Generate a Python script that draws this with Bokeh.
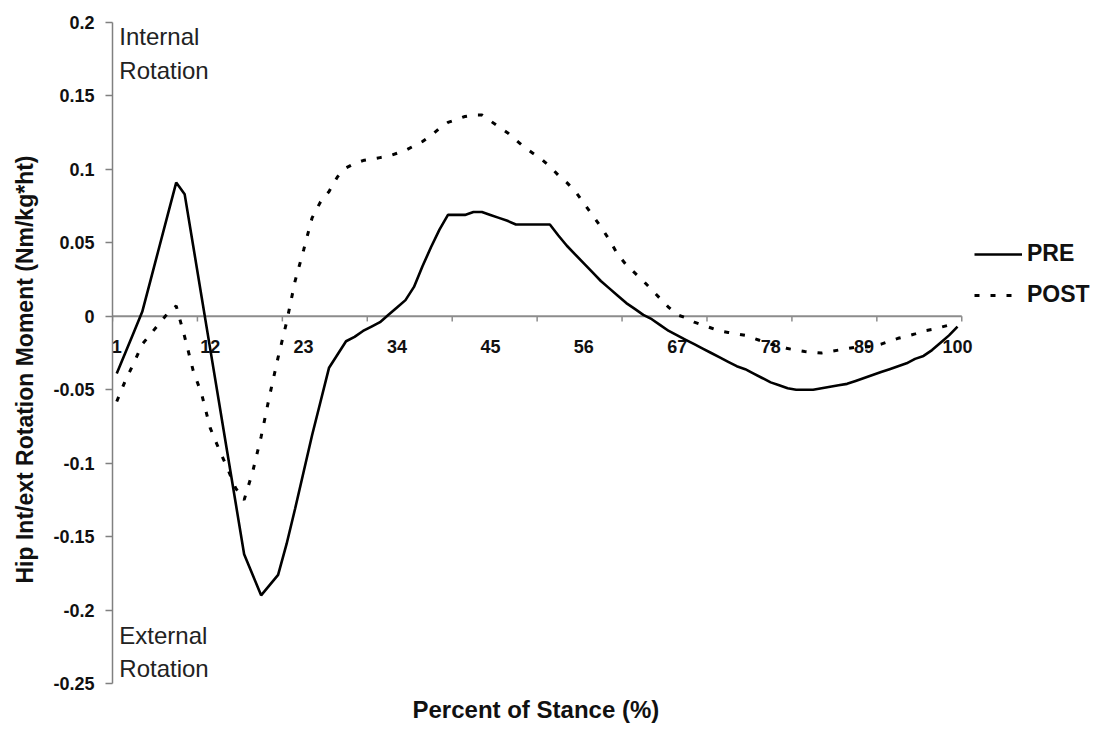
from bokeh.plotting import figure
from bokeh.models import (Range1d, FixedTicker, Label, Legend, LegendItem, Title,
                          CustomJSTickFormatter)
from bokeh.core.properties import value
from bokeh.embed import file_html
from bokeh.resources import INLINE

# ---------------- data ----------------
stance = list(range(1, 101))

pre = [
    -0.039, -0.025, -0.011, 0.003, 0.025, 0.047, 0.069, 0.091, 0.083, 0.048,
    0.013, -0.022, -0.057, -0.092, -0.127, -0.162, -0.176, -0.190, -0.183, -0.176,
    -0.155, -0.131, -0.106, -0.081, -0.058, -0.035, -0.026, -0.017, -0.014, -0.010,
    -0.007, -0.004, 0.001, 0.006, 0.011, 0.020, 0.034, 0.047, 0.059, 0.069,
    0.069, 0.069, 0.071, 0.071, 0.069, 0.067, 0.065, 0.0625, 0.0625, 0.0625,
    0.0625, 0.0625, 0.055, 0.048, 0.042, 0.036, 0.030, 0.024, 0.019, 0.014,
    0.009, 0.005, 0.001, -0.002, -0.006, -0.010, -0.013, -0.016, -0.019, -0.022,
    -0.025, -0.028, -0.031, -0.034, -0.036, -0.039, -0.042, -0.045, -0.047, -0.049,
    -0.050, -0.050, -0.050, -0.049, -0.048, -0.047, -0.046, -0.044, -0.042, -0.040,
    -0.038, -0.036, -0.034, -0.032, -0.029, -0.027, -0.023, -0.018, -0.013, -0.007,
]

post = [
    -0.058, -0.044, -0.032, -0.019, -0.012, -0.005, 0.002, 0.007, -0.014, -0.037,
    -0.053, -0.076, -0.090, -0.103, -0.117, -0.125, -0.106, -0.082, -0.054, -0.028,
    -0.004, 0.024, 0.045, 0.067, 0.078, 0.085, 0.095, 0.101, 0.104, 0.106,
    0.107, 0.108, 0.109, 0.111, 0.113, 0.116, 0.119, 0.123, 0.128, 0.132,
    0.134, 0.136, 0.137, 0.137, 0.133, 0.129, 0.125, 0.120, 0.115, 0.111,
    0.107, 0.102, 0.096, 0.091, 0.085, 0.077, 0.069, 0.061, 0.052, 0.042,
    0.035, 0.0295, 0.024, 0.018, 0.012, 0.006, 0.001, -0.001, -0.004, -0.006,
    -0.008, -0.010, -0.011, -0.012, -0.013, -0.015, -0.017, -0.019, -0.020, -0.022,
    -0.023, -0.024, -0.0245, -0.025, -0.024, -0.023, -0.022, -0.021, -0.021, -0.0205,
    -0.019, -0.017, -0.015, -0.0136, -0.012, -0.010, -0.009, -0.0075, -0.006, -0.005,
]

x_tick_labels = [1, 12, 23, 34, 45, 56, 67, 78, 89, 100]
x_tick_marks = [0.5, 10.5, 20.5, 30.5, 40.5, 50.5, 60.5, 70.5, 80.5, 90.5, 100.5]
y_ticks = [-0.25, -0.2, -0.15, -0.1, -0.05, 0, 0.05, 0.1, 0.15, 0.2]
y_tick_labels = ["-0.25", "-0.2", "-0.15", "-0.1", "-0.05", "0", "0.05", "0.1", "0.15", "0.2"]

# ---------------- figure ----------------
# category axis occupies 851 px; frame extended to the right to hold the legend
X_END = 100.5 + 132 / 8.51
p = figure(width=1093, height=733,
           x_range=Range1d(0.5, X_END), y_range=Range1d(-0.25, 0.2),
           output_backend="svg", toolbar_location=None,
           min_border=0,
           min_border_left=110, min_border_right=0,
           min_border_top=22, min_border_bottom=50)
p.grid.visible = False
p.outline_line_color = None
p.background_fill_color = "white"
p.border_fill_color = "white"

AXIS_GRAY = "#808080"
FONT = "Liberation Sans"

# y axis
yax = p.yaxis[0]
yax.ticker = FixedTicker(ticks=y_ticks, minor_ticks=[])
yax.formatter = CustomJSTickFormatter(
    args=dict(yvals=y_ticks, ylabs=y_tick_labels),
    code="const k = yvals.findIndex(t => Math.abs(t - tick) < 1e-9); return k >= 0 ? ylabs[k] : '';")
yax.axis_line_color = AXIS_GRAY
yax.axis_line_width = 1.5
yax.major_tick_line_color = AXIS_GRAY
yax.major_tick_line_width = 1.5
yax.major_tick_out = 7
yax.major_tick_in = 0
yax.minor_tick_line_color = None
yax.major_label_text_font = FONT
yax.major_label_text_font_style = "bold"
yax.major_label_text_font_size = "18px"
yax.major_label_text_color = "#111111"
yax.major_label_standoff = 11

# no bottom axis: the category axis is drawn on the zero line
p.xaxis.visible = False

# axis titles as offset titles (aligned to the category-axis span, not the frame)
p.add_layout(Title(text="Percent of Stance (%)", align="left", offset=300,
                   standoff=20, text_font=FONT, text_font_style="bold",
                   text_font_size="24px", text_color="#111111"), "below")
p.add_layout(Title(text="Hip Int/ext Rotation Moment (Nm/kg*ht)", align="left",
                   offset=100, standoff=22, vertical_align="top",
                   text_font=FONT, text_font_style="bold",
                   text_font_size="23px", text_color="#111111"), "left")

# zero line acting as the category axis
p.segment(x0=[x_tick_marks[0]], y0=[0], x1=[x_tick_marks[-1]], y1=[0],
          line_color="#8c8c8c", line_width=2)
tick_len = 0.0035
p.segment(x0=x_tick_marks, y0=[0] * len(x_tick_marks),
          x1=x_tick_marks, y1=[-tick_len] * len(x_tick_marks),
          line_color="#8c8c8c", line_width=1.5)
p.text(x=x_tick_labels, y=[0] * len(x_tick_labels),
       text=[str(v) for v in x_tick_labels],
       text_align="center", text_baseline="middle", y_offset=30,
       text_font=value(FONT), text_font_style="bold",
       text_font_size="18px", text_color="#111111")

# series
pre_r = p.line(stance, pre, line_color="black", line_width=2.6)
post_r = p.line(stance, post, line_color="black", line_width=3, line_dash="5 11")

# annotations
for txt, yv in [("Internal", 0.1902), ("Rotation", 0.1670),
                ("External", -0.2175), ("Rotation", -0.2400)]:
    p.add_layout(Label(x=1.3, y=yv, text=txt, text_font=FONT,
                       text_font_size="24px", text_color="#222222",
                       text_baseline="alphabetic", text_align="left"))

legend = Legend(items=[LegendItem(label="PRE", renderers=[pre_r]),
                       LegendItem(label="POST", renderers=[post_r])],
                location=(862, 375), orientation="vertical",
                glyph_width=48, glyph_height=20, label_height=20,
                label_standoff=5, spacing=14, padding=0, margin=0,
                border_line_color=None, background_fill_alpha=0,
                label_text_font=FONT, label_text_font_style="bold",
                label_text_font_size="23px", label_text_color="#111111")
p.add_layout(legend, "center")

open("out.html", "w").write(file_html(p, INLINE))
